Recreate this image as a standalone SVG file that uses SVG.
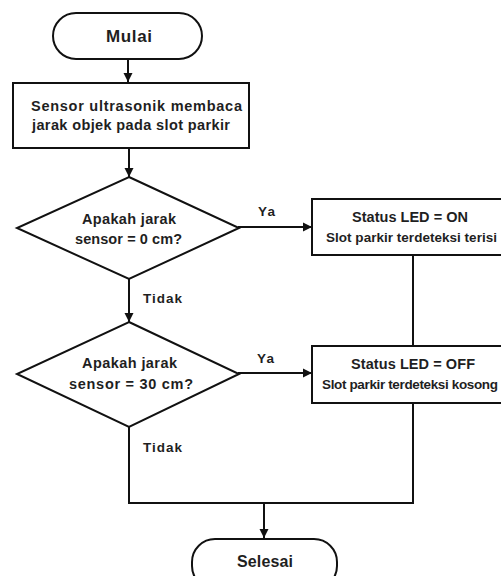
<svg xmlns="http://www.w3.org/2000/svg" width="501" height="576" viewBox="0 0 501 576">
<defs>
<marker id="ah" markerWidth="10" markerHeight="10" refX="9" refY="5" orient="auto" markerUnits="userSpaceOnUse">
<path d="M0,0.5 L9,5 L0,9.5 Z" fill="#111"/>
</marker>
<style>
.shape{fill:#fff;stroke:#111;stroke-width:2}
.conn{fill:none;stroke:#111;stroke-width:2}
text{font-family:"Liberation Sans",Arial,sans-serif;fill:#1f1f1f;text-anchor:middle;font-weight:bold}
.b{font-size:14.5px}
.t{font-size:16px}
.s{font-size:13.5px}
.l{font-size:13.5px;text-anchor:start}
</style>
</defs>
<rect width="501" height="576" fill="#fff"/>
<g id="connectors">
<line class="conn" x1="128" y1="59" x2="128" y2="82" marker-end="url(#ah)"/>
<line class="conn" x1="129" y1="148" x2="129" y2="177" marker-end="url(#ah)"/>
<line class="conn" x1="129" y1="279" x2="129" y2="322" marker-end="url(#ah)"/>
<line class="conn" x1="238" y1="227" x2="312" y2="227" marker-end="url(#ah)"/>
<line class="conn" x1="238" y1="373" x2="312" y2="373" marker-end="url(#ah)"/>
<line class="conn" x1="413" y1="255" x2="413" y2="346"/>
<polyline class="conn" points="129,427 129,503 413,503 413,403"/>
<line class="conn" x1="264" y1="503" x2="264" y2="538" marker-end="url(#ah)"/>
<text class="l" x="258" y="216" textLength="17">Ya</text>
<text class="l" x="257" y="363" textLength="17">Ya</text>
<text class="l" x="143" y="303" textLength="39">Tidak</text>
<text class="l" x="143" y="452" textLength="39">Tidak</text>
</g>
<g id="mulai">
<rect class="shape" x="53" y="13" width="149" height="46" rx="23"/>
<text class="t" x="129" y="42" textLength="46" style="font-size:17px">Mulai</text>
</g>
<g id="sensor">
<rect class="shape" x="13" y="83" width="236" height="65"/>
<text class="b" x="136.5" y="111" textLength="211">Sensor ultrasonik membaca</text>
<text class="b" x="131" y="130" textLength="198">jarak objek pada slot parkir</text>
</g>
<g id="cek0">
<polygon class="shape" points="129,177 239,228 129,279 17,228"/>
<text class="b" x="129" y="224" textLength="94">Apakah jarak</text>
<text class="b" x="128.5" y="244" textLength="107">sensor = 0 cm?</text>
</g>
<g id="cek30">
<polygon class="shape" points="129,322 239,374 129,427 17,374"/>
<text class="b" x="129.5" y="368" textLength="95">Apakah jarak</text>
<text class="b" x="131" y="389" textLength="124">sensor = 30 cm?</text>
</g>
<g id="ledon">
<rect class="shape" x="312" y="199" width="200" height="56"/>
<text class="b" x="410" y="222" textLength="116">Status LED = ON</text>
<text class="s" x="411.5" y="242" textLength="171">Slot parkir terdeteksi terisi</text>
</g>
<g id="ledoff">
<rect class="shape" x="312" y="346" width="200" height="57"/>
<text class="b" x="413" y="369" textLength="124">Status LED = OFF</text>
<text class="s" x="322" y="389" textLength="176" style="text-anchor:start">Slot parkir terdeteksi kosong</text>
</g>
<g id="selesai">
<rect class="shape" x="192" y="539" width="145" height="50" rx="23"/>
<text class="t" x="265" y="567" textLength="56">Selesai</text>
</g>
</svg>
